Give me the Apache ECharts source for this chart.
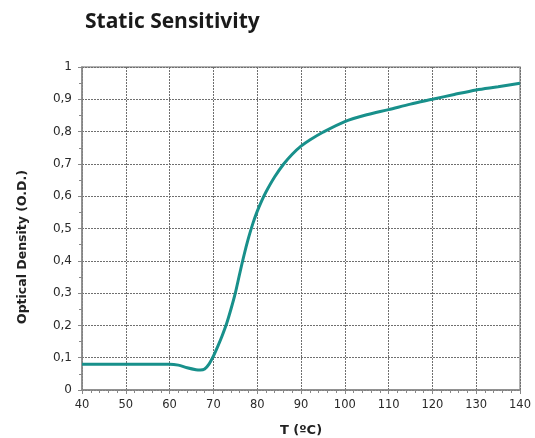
<!DOCTYPE html>
<html>
<head>
<meta charset="utf-8">
<script src="https://cdn.jsdelivr.net/npm/echarts@6/dist/echarts.min.js"></script>
<style>html,body{margin:0;padding:0;background:#fff}#c{width:535px;height:438px}</style>
</head>
<body>
<div id="c"></div>
<script>
var temps = [40, 45, 50, 55, 60, 62, 64, 66, 67, 68, 69, 70, 71, 72, 73, 74, 75, 76, 77, 78, 79, 80, 81, 82, 84, 86, 88, 90, 92, 95, 100, 105, 110, 115, 120, 125, 130, 135, 140];
var density = [0.08, 0.08, 0.08, 0.08, 0.08, 0.077, 0.069, 0.063, 0.062, 0.065, 0.08, 0.105, 0.135, 0.168, 0.205, 0.25, 0.3, 0.36, 0.418, 0.47, 0.515, 0.553, 0.585, 0.613, 0.66, 0.699, 0.73, 0.755, 0.774, 0.798, 0.831, 0.852, 0.868, 0.885, 0.9, 0.915, 0.929, 0.939, 0.95];
var xTicks = [40, 50, 60, 70, 80, 90, 100, 110, 120, 130, 140];
var yTicks = [0, 0.1, 0.2, 0.3, 0.4, 0.5, 0.6, 0.7, 0.8, 0.9, 1];

var chart = echarts.init(document.getElementById('c'), null, {renderer: 'canvas'});
var pts = temps.map(function (t, i) { return [t, density[i]]; });
chart.setOption({
  animation: false,
  title: {
    text: 'Static Sensitivity', left: 80, top: 7,
    textStyle: {fontFamily: 'Open Sans', fontWeight: 'bold', fontSize: 21, color: '#1a1a1a'}
  },
  graphic: [{
    type: 'text', x: 23, y: 247, rotation: Math.PI / 2,
    style: {
      text: 'Optical Density (O.D.)', fontFamily: 'DejaVu Sans', fontWeight: 'bold', fontSize: 12.5,
      fill: '#222', align: 'center', verticalAlign: 'middle'
    }
  }],
  grid: {left: 82, right: 15, top: 67, bottom: 48, outerBoundsMode: 'none', containLabel: false,
         show: true, borderColor: '#999', borderWidth: 1.5},
  xAxis: {
    type: 'value', min: xTicks[0], max: xTicks[xTicks.length - 1], interval: 10,
    name: 'T (ºC)', nameLocation: 'middle', nameGap: 34,
    nameTextStyle: {fontFamily: 'DejaVu Sans', fontWeight: 'bold', fontSize: 13, color: '#222'},
    axisLine: {show: true, lineStyle: {color: '#888', width: 1.5}},
    axisTick: {show: true, length: 4, lineStyle: {color: '#888'}},
    minorTick: {show: true, splitNumber: 5, length: 3, lineStyle: {color: '#888'}},
    splitLine: {show: true, lineStyle: {color: '#6f6f6f', type: [2, 1], width: 1}},
    axisLabel: {margin: 9, fontFamily: 'DejaVu Sans', fontSize: 11.5, color: '#2a2a2a'}
  },
  yAxis: {
    type: 'value', min: yTicks[0], max: yTicks[yTicks.length - 1], interval: 0.1,
    axisLine: {show: true, lineStyle: {color: '#888', width: 1.5}},
    axisTick: {show: true, length: 4, lineStyle: {color: '#888'}},
    minorTick: {show: true, splitNumber: 2, length: 3, lineStyle: {color: '#888'}},
    splitLine: {show: true, lineStyle: {color: '#6f6f6f', type: [2, 1], width: 1}},
    axisLabel: {
      margin: 10, fontFamily: 'DejaVu Sans', fontSize: 12, color: '#2a2a2a',
      formatter: function (v) { return (Math.round(v * 10) / 10).toString().replace('.', ','); }
    }
  },
  series: [{
    type: 'line', data: pts, smooth: 0.3, showSymbol: false,
    lineStyle: {color: '#18908b', width: 3}
  }]
});
</script>
</body>
</html>
